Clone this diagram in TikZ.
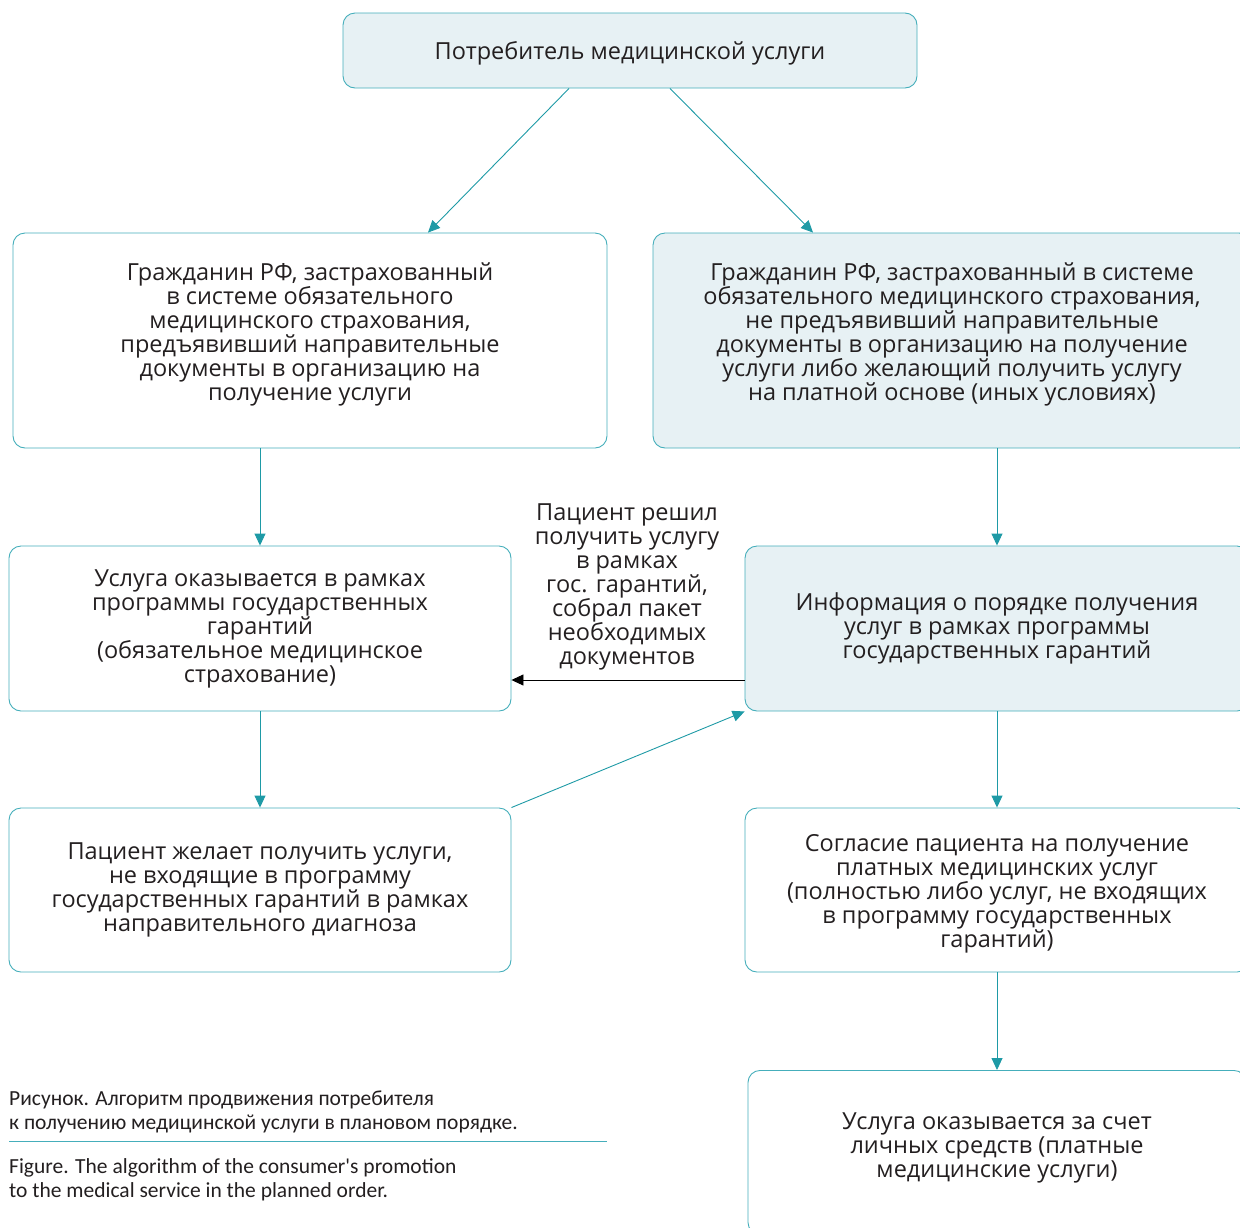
\documentclass[tikz,border=0pt]{standalone}
\usepackage{fontspec}
\setmainfont{Open Sans}
\newfontfamily\capfont{Carlito}
\usetikzlibrary{arrows.meta}
\definecolor{tealline}{HTML}{45AEBB}
\definecolor{tealarrow}{HTML}{1E9AA6}
\definecolor{tint}{HTML}{E7F1F4}
\definecolor{ink}{HTML}{231F20}
\tikzset{
  box/.style={draw=tealline,line width=0.9pt,rounded corners=12pt,align=center,text=ink,inner sep=0pt,font=\fontsize{23.5}{24}\selectfont},
  tinted/.style={box,fill=tint},
  boxtext/.style={align=center,text=ink,inner sep=0pt,font=\fontsize{23.5}{24}\selectfont},
  link/.style={draw=tealarrow,line width=0.9pt,-{Triangle[length=12pt,width=11pt]}},
  caption/.style={anchor=north west,align=left,inner sep=0pt,text=ink,font=\capfont\fontsize{21.5}{24}\selectfont}
}
\begin{document}
\begin{tikzpicture}[x=1pt,y=-1pt]
\useasboundingbox (0,0) rectangle (1240,1227);
\clip (0,0) rectangle (1240,1227);
% boxes
\node[tinted,minimum width=574pt,minimum height=75pt,label={[boxtext,yshift=-3pt]center:Потребитель медицинской услуги}] (consumer) at (630,50.5) {};
\node[box,minimum width=594pt,minimum height=215pt,label={[boxtext,yshift=6pt]center:Гражданин РФ, застрахованный\\в системе обязательного\\медицинского страхования,\\предъявивший направительные\\документы в организацию на\\получение услуги}] (insured) at (310,340.5) {};
\node[tinted,minimum width=598pt,minimum height=215pt,label={[boxtext,yshift=6pt]center:Гражданин РФ, застрахованный в системе\\обязательного медицинского страхования,\\не предъявивший направительные\\документы в организацию на получение\\услуги либо желающий получить услугу\\на платной основе (иных условиях)}] (other) at (952,340.5) {};
\node[box,minimum width=502pt,minimum height=165pt] (stateserv) at (260,628.5) {Услуга оказывается в рамках\\программы государственных\\гарантий\\(обязательное медицинское\\страхование)};
\node[tinted,minimum width=504pt,minimum height=165pt] (info) at (997,628.5) {Информация о порядке получения\\услуг в рамках программы\\государственных гарантий};
\node[box,minimum width=502pt,minimum height=164pt] (extra) at (260,890) {Пациент желает получить услуги,\\не входящие в программу\\государственных гарантий в рамках\\направительного диагноза};
\node[box,minimum width=504pt,minimum height=164pt,label={[boxtext,yshift=-4pt]center:Согласие пациента на получение\\платных медицинских услуг\\(полностью либо услуг, не входящих\\в программу государственных\\гарантий)}] (consent) at (997,890) {};
\node[box,anchor=north,minimum width=498pt,minimum height=164pt,label={[boxtext,yshift=5pt]center:Услуга оказывается за счет\\личных средств (платные\\медицинские услуги)}] (paid) at (997,1070) {};
\node[boxtext] (decision) at (627,587) {Пациент решил\\получить услугу\\в рамках\\гос. гарантий,\\собрал пакет\\необходимых\\документов};
% connectors
\draw[link] ([xshift=-61pt]consumer.south) -- ([xshift=118pt]insured.north);
\draw[link] ([xshift=40pt]consumer.south) -- ([xshift=-139pt]other.north);
\draw[link] ([xshift=-50pt]insured.south) -- (stateserv.north);
\draw[link] ([xshift=45pt]other.south) -- (info.north);
\draw[line width=0.9pt,-{Triangle[length=12pt,width=11pt]}] ([yshift=-51.5pt]info.west) -- ([yshift=-51.5pt]stateserv.east);
\draw[link] (stateserv.south) -- (extra.north);
\draw[link] (extra.north east) -- (info.south west);
\draw[link] (info.south) -- (consent.north);
\draw[link] (consent.south) -- (paid.north);
% caption
\node[caption] (capru) at (9,1091) {Рисунок. Алгоритм продвижения потребителя\\к получению медицинской услуги в плановом порядке.};
\draw[tealline,line width=0.9pt] (9,1141) -- (607,1141);
\node[caption] (capen) at (9,1158) {Figure. The algorithm of the consumer's promotion\\to the medical service in the planned order.};
\end{tikzpicture}
\end{document}
